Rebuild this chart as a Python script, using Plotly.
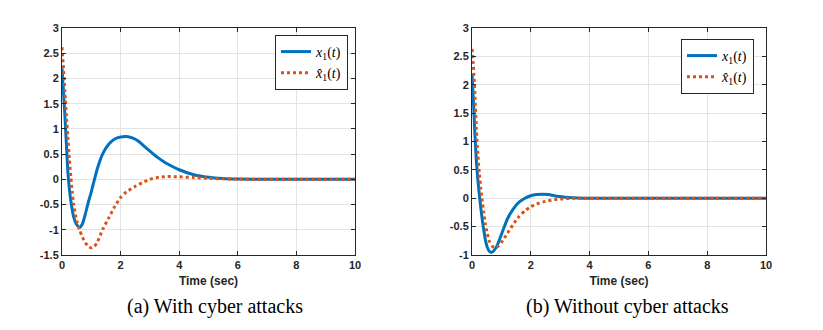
import plotly.graph_objects as go

# (a) with cyber attacks
t_a = [0, 0.05, 0.1, 0.15, 0.2, 0.25, 0.3, 0.4, 0.5, 0.6, 0.7, 0.8, 0.9, 1.0,
       1.2, 1.4, 1.6, 1.8, 2.0, 2.2, 2.4, 2.6, 2.8, 3.0, 3.25, 3.5, 3.75, 4.0,
       4.5, 5.0, 5.5, 6.0, 7.0, 8.0, 9.0, 10.0]
x1_a = [2.2, 1.75, 1.25, 0.7, 0.15, -0.18, -0.42, -0.75, -0.9, -0.95, -0.88,
        -0.68, -0.45, -0.25, 0.2, 0.52, 0.7, 0.8, 0.84, 0.85, 0.82, 0.76, 0.66,
        0.56, 0.44, 0.34, 0.26, 0.19, 0.09, 0.04, 0.015, 0.005, 0, 0, 0, 0]
t_hat_a = [0, 0.05, 0.1, 0.15, 0.2, 0.25, 0.3, 0.35, 0.4, 0.5, 0.6, 0.7, 0.8,
           0.9, 1.0, 1.1, 1.2, 1.4, 1.6, 1.8, 2.0, 2.2, 2.5, 2.8, 3.0, 3.3,
           3.6, 4.0, 4.5, 5.0, 5.5, 6.0, 7.0, 8.0, 9.0, 10.0]
xhat1_a = [2.62, 2.2, 1.73, 1.25, 0.85, 0.42, 0.05, -0.25, -0.5, -0.82, -1.0,
           -1.15, -1.26, -1.33, -1.36, -1.33, -1.25, -0.98, -0.76, -0.54,
           -0.36, -0.25, -0.14, -0.05, 0.0, 0.04, 0.055, 0.05, 0.035, 0.02,
           0.01, 0.003, 0, 0, 0, 0]

# (b) without cyber attacks
t_b = [0, 0.05, 0.1, 0.15, 0.2, 0.25, 0.3, 0.35, 0.4, 0.45, 0.5, 0.55, 0.6,
       0.67, 0.75, 0.85, 1.0, 1.2, 1.4, 1.6, 1.8, 2.0, 2.2, 2.4, 2.6, 2.8,
       3.0, 3.3, 3.6, 4.0, 5.0, 6.0, 7.0, 8.0, 9.0, 10.0]
x1_b = [2.2, 1.7, 1.12, 0.65, 0.32, 0.06, -0.17, -0.38, -0.56, -0.72, -0.83,
        -0.9, -0.94, -0.95, -0.92, -0.84, -0.64, -0.37, -0.19, -0.07, 0.0,
        0.045, 0.065, 0.07, 0.065, 0.045, 0.03, 0.012, 0.004, 0, 0, 0, 0, 0,
        0, 0]
t_hat_b = [0, 0.05, 0.1, 0.15, 0.2, 0.25, 0.3, 0.35, 0.4, 0.45, 0.5, 0.55,
           0.6, 0.7, 0.8, 0.9, 1.0, 1.2, 1.4, 1.6, 1.8, 2.0, 2.2, 2.5, 2.8,
           3.0, 3.5, 4.0, 5.0, 6.0, 7.0, 8.0, 9.0, 10.0]
xhat1_b = [2.63, 2.32, 1.8, 1.22, 0.78, 0.42, 0.17, -0.05, -0.25, -0.44,
           -0.58, -0.69, -0.77, -0.85, -0.87, -0.84, -0.78, -0.62, -0.46,
           -0.32, -0.22, -0.15, -0.1, -0.055, -0.025, -0.015, 0, 0, 0, 0, 0,
           0, 0, 0]

x_ticks = [0, 2, 4, 6, 8, 10]
y_ticks_a = [-1.5, -1, -0.5, 0, 0.5, 1, 1.5, 2, 2.5, 3]
y_ticks_b = [-1, -0.5, 0, 0.5, 1, 1.5, 2, 2.5, 3]
captions = ["(a) With cyber attacks", "(b) Without cyber attacks"]

BLUE = "#0072BD"
ORANGE = "#D95319"
AX = "#262626"
GRID = "#e3e3e3"

# the page body has an 8px margin, so work in page pixels and shift
OFF = 8
W, H = 823 - OFF, 330 - OFF


def px_x(p):
    return (p - OFF) / W


def px_y(p):
    return 1 - (p - OFF) / H


def label(v):
    return "%g" % v


fig = go.Figure()

fig.add_trace(go.Scatter(x=t_a, y=x1_a, mode="lines", name="<i>x</i><sub>1</sub>(<i>t</i>)",
                         line=dict(color=BLUE, width=3, shape="spline", smoothing=0.6),
                         xaxis="x", yaxis="y", legend="legend"))
fig.add_trace(go.Scatter(x=t_hat_a, y=xhat1_a, mode="lines", name="<i>x&#770;</i><sub>1</sub>(<i>t</i>)",
                         line=dict(color=ORANGE, width=3, dash="dot", shape="spline", smoothing=0.6),
                         xaxis="x", yaxis="y", legend="legend"))
fig.add_trace(go.Scatter(x=t_b, y=x1_b, mode="lines", name="<i>x</i><sub>1</sub>(<i>t</i>)",
                         line=dict(color=BLUE, width=3, shape="spline", smoothing=0.6),
                         xaxis="x2", yaxis="y2", legend="legend2"))
fig.add_trace(go.Scatter(x=t_hat_b, y=xhat1_b, mode="lines", name="<i>x&#770;</i><sub>1</sub>(<i>t</i>)",
                         line=dict(color=ORANGE, width=3, dash="dot", shape="spline", smoothing=0.6),
                         xaxis="x2", yaxis="y2", legend="legend2"))

tickfont = dict(family="Liberation Sans, Arial", size=11, color=AX, weight="bold")
common = dict(showline=True, linecolor=AX, linewidth=1, mirror="ticks", ticks="inside",
              ticklen=4, tickcolor=AX, showgrid=True, gridcolor=GRID, zeroline=False,
              tickfont=tickfont, automargin=False)
xtitle = dict(text="Time (sec)", font=dict(family="Liberation Sans, Arial", size=12,
                                           color=AX, weight="bold"), standoff=6)
legfont = dict(family="Liberation Serif, Times New Roman", size=14, color="black")

ydom = [px_y(255), px_y(28)]
fig.update_layout(
    width=W, height=H,
    margin=dict(l=0, r=0, t=0, b=0),
    paper_bgcolor="white", plot_bgcolor="white",
    xaxis=dict(domain=[px_x(62), px_x(355)], range=[0, 10], tickvals=x_ticks,
               ticktext=[label(v) for v in x_ticks], title=xtitle, anchor="y", **common),
    yaxis=dict(domain=ydom, range=[-1.5, 3], tickvals=y_ticks_a,
               ticktext=[label(v) for v in y_ticks_a], anchor="x", **common),
    xaxis2=dict(domain=[px_x(472), px_x(766)], range=[0, 10], tickvals=x_ticks,
                ticktext=[label(v) for v in x_ticks], title=xtitle, anchor="y2", **common),
    yaxis2=dict(domain=ydom, range=[-1, 3], tickvals=y_ticks_b,
                ticktext=[label(v) for v in y_ticks_b], anchor="x2", **common),
    legend=dict(x=px_x(348), xanchor="right", y=px_y(35), yanchor="top",
                bgcolor="white", bordercolor=AX, borderwidth=1, font=legfont,
                itemwidth=30, tracegroupgap=0),
    legend2=dict(x=px_x(754), xanchor="right", y=px_y(39), yanchor="top",
                 bgcolor="white", bordercolor=AX, borderwidth=1, font=legfont,
                 itemwidth=30, tracegroupgap=0),
    showlegend=True,
)

for cx, text in zip([215, 627], captions):
    fig.add_annotation(x=px_x(cx), y=px_y(306), xref="paper", yref="paper", text=text,
                       showarrow=False, xanchor="center", yanchor="middle",
                       font=dict(family="Liberation Serif, Times New Roman", size=20, color="black"))

fig.write_html("out.html")
